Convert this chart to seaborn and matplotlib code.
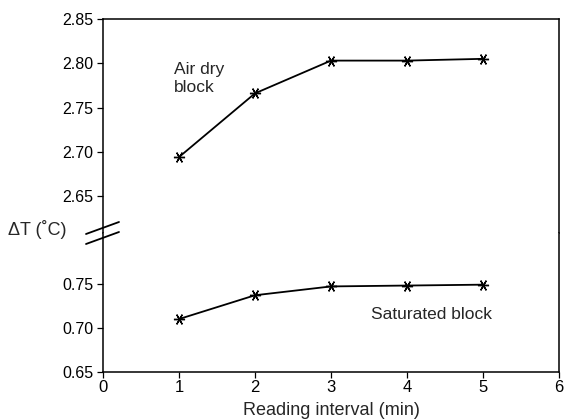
import matplotlib
matplotlib.use("Agg")
import matplotlib.pyplot as plt
from matplotlib.lines import Line2D
import seaborn as sns
import pandas as pd

# Reading interval (min) and temperature difference for each block
interval = [1, 2, 3, 4, 5]
air_dry = [2.694, 2.766, 2.803, 2.803, 2.805]
saturated = [0.710, 0.737, 0.747, 0.748, 0.749]

x_ticks = [0, 1, 2, 3, 4, 5, 6]
upper_ticks = [2.65, 2.70, 2.75, 2.80, 2.85]
lower_ticks = [0.65, 0.70, 0.75]

sns.set_style("ticks")
plt.rcParams["font.family"] = ["Liberation Sans", "DejaVu Sans"]

df_air = pd.DataFrame({"interval": interval, "dT": air_dry})
df_sat = pd.DataFrame({"interval": interval, "dT": saturated})

fig = plt.figure(figsize=(5.65, 4.19), dpi=100)
left, right = 103 / 565, 559 / 565
top, brk, bottom = 1 - 19 / 419, 1 - 233 / 419, 1 - 372 / 419
ax_top = fig.add_axes([left, brk, right - left, top - brk])
ax_bot = fig.add_axes([left, bottom, right - left, brk - bottom])

asterisk = (6, 2, 90)
line_kw = dict(color="black", linewidth=1.3, marker=asterisk, markersize=8,
               markeredgewidth=1.0, markeredgecolor="black")
sns.lineplot(data=df_air, x="interval", y="dT", ax=ax_top, **line_kw)
sns.lineplot(data=df_sat, x="interval", y="dT", ax=ax_bot, **line_kw)

px = 0.05 / 44.3
ax_top.set_ylim(2.65 - 37 * px, 2.85)
ax_bot.set_ylim(0.65, 0.75 + 51 * px)
for ax in (ax_top, ax_bot):
    ax.set_xlim(0, 6)
    ax.set_xlabel("")
    ax.set_ylabel("")
    for s in ax.spines.values():
        s.set_color("black")
        s.set_linewidth(1.1)
    ax.tick_params(axis="y", direction="out", length=4, width=0.9,
                   labelsize=11.5, colors="black", pad=3)

ax_top.spines["bottom"].set_visible(False)
ax_bot.spines["top"].set_visible(False)
ax_top.set_xticks([])
ax_top.set_yticks(upper_ticks)
ax_top.set_yticklabels([f"{v:.2f}" for v in upper_ticks])
ax_bot.set_yticks(lower_ticks)
ax_bot.set_yticklabels([f"{v:.2f}" for v in lower_ticks])
ax_bot.set_xticks(x_ticks)
ax_bot.tick_params(axis="x", direction="out", length=4, width=0.9,
                   labelsize=12, colors="black", pad=2)
ax_bot.set_xlabel("Reading interval (min)", fontsize=13, labelpad=5)

ax_top.text(0.93, 2.783, "Air dry\nblock", fontsize=12.5, ha="left",
            va="center", linespacing=1.2)
ax_bot.text(3.53, 0.7155, "Saturated block", fontsize=12.5, ha="left",
            va="center")

fig.text(8 / 565, 1 - 229 / 419, "\u0394T (\u02daC)", fontsize=13,
         ha="left", va="center")

# axis break marks across the left spine
for y0 in (234, 244):
    fig.add_artist(Line2D([86 / 565, 119 / 565],
                          [1 - y0 / 419, 1 - (y0 - 12) / 419],
                          color="black", linewidth=1.3,
                          transform=fig.transFigure))

fig.savefig("out.png", dpi=100)
